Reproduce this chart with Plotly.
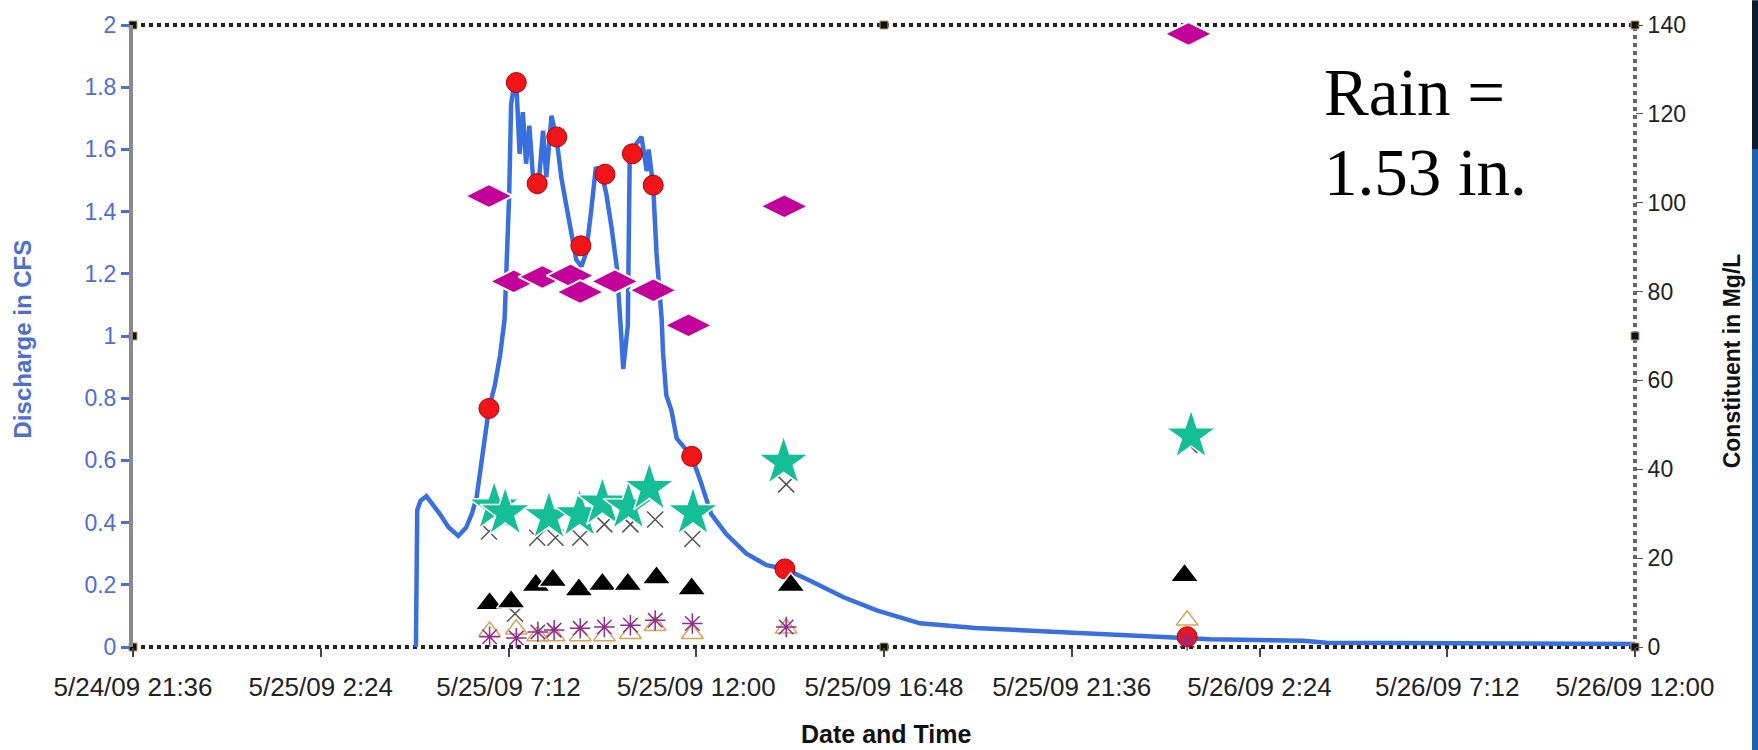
import plotly.graph_objects as go

# ---------------- data ----------------
# Continuous discharge record (left axis, CFS)
q_time = [
    "2009-05-25 04:50", "2009-05-25 04:52", "2009-05-25 04:57", "2009-05-25 05:06", "2009-05-25 05:15",
    "2009-05-25 05:26", "2009-05-25 05:40", "2009-05-25 05:55", "2009-05-25 06:07", "2009-05-25 06:16",
    "2009-05-25 06:23", "2009-05-25 06:30", "2009-05-25 06:36", "2009-05-25 06:42", "2009-05-25 06:51",
    "2009-05-25 06:59", "2009-05-25 07:06", "2009-05-25 07:08", "2009-05-25 07:11", "2009-05-25 07:13",
    "2009-05-25 07:16", "2009-05-25 07:20", "2009-05-25 07:24", "2009-05-25 07:26", "2009-05-25 07:29",
    "2009-05-25 07:34", "2009-05-25 07:39", "2009-05-25 07:44", "2009-05-25 07:50", "2009-05-25 07:57",
    "2009-05-25 08:05", "2009-05-25 08:10", "2009-05-25 08:18", "2009-05-25 08:26", "2009-05-25 08:33",
    "2009-05-25 08:41", "2009-05-25 08:49", "2009-05-25 08:56", "2009-05-25 09:04", "2009-05-25 09:11",
    "2009-05-25 09:19", "2009-05-25 09:26", "2009-05-25 09:35", "2009-05-25 09:42", "2009-05-25 09:50",
    "2009-05-25 09:58", "2009-05-25 10:04", "2009-05-25 10:08", "2009-05-25 10:15", "2009-05-25 10:17",
    "2009-05-25 10:18", "2009-05-25 10:28", "2009-05-25 10:36", "2009-05-25 10:44", "2009-05-25 10:47",
    "2009-05-25 10:54", "2009-05-25 10:59", "2009-05-25 11:07", "2009-05-25 11:09", "2009-05-25 11:14",
    "2009-05-25 11:22", "2009-05-25 11:30", "2009-05-25 11:42", "2009-05-25 11:53", "2009-05-25 12:05",
    "2009-05-25 12:23", "2009-05-25 12:46", "2009-05-25 13:17", "2009-05-25 13:48", "2009-05-25 14:16",
    "2009-05-25 14:54", "2009-05-25 15:46", "2009-05-25 16:37", "2009-05-25 17:43", "2009-05-25 19:08",
    "2009-05-25 21:38", "2009-05-25 22:19", "2009-05-26 00:02", "2009-05-26 01:08", "2009-05-26 03:31",
    "2009-05-26 04:07", "2009-05-26 12:00",
]
q_cfs = [
    0.0, 0.44, 0.47, 0.485, 0.46,
    0.43, 0.385, 0.357, 0.384, 0.43,
    0.48, 0.586, 0.692, 0.767, 0.841,
    0.937, 1.054, 1.16, 1.267, 1.45,
    1.745, 1.80, 1.815, 1.70, 1.586,
    1.72, 1.554, 1.676, 1.50, 1.458,
    1.66, 1.51, 1.708, 1.63, 1.51,
    1.416, 1.33, 1.245, 1.224, 1.267,
    1.405, 1.543, 1.52, 1.458, 1.35,
    1.224, 1.033, 0.894, 1.033, 1.30,
    1.586, 1.618, 1.64, 1.53, 1.60,
    1.48, 1.267, 1.054, 0.948, 0.81,
    0.76, 0.671, 0.639, 0.613, 0.543,
    0.427, 0.363, 0.30, 0.263, 0.251,
    0.214, 0.16, 0.118, 0.076, 0.061,
    0.045, 0.044, 0.031, 0.025, 0.020,
    0.014, 0.010,
]

# Discharge at sample times (red circles, left axis)
samp_time = ["2009-05-25 06:42", "2009-05-25 07:24", "2009-05-25 07:56", "2009-05-25 08:26",
             "2009-05-25 09:03", "2009-05-25 09:40", "2009-05-25 10:22", "2009-05-25 10:54",
             "2009-05-25 11:53", "2009-05-25 14:16", "2009-05-26 00:33"]
samp_cfs = [0.767, 1.815, 1.49, 1.64, 1.29, 1.52, 1.586, 1.485, 0.613, 0.251, 0.033]

# Constituents (right axis, Mg/L)
dia_time = ["2009-05-25 06:42", "2009-05-25 07:20", "2009-05-25 08:04", "2009-05-25 08:47",
            "2009-05-25 09:02", "2009-05-25 09:55", "2009-05-25 10:54", "2009-05-25 11:48",
            "2009-05-25 14:15", "2009-05-26 00:35"]
dia_val = [101.5, 82.3, 83.3, 83.6, 79.9, 82.3, 80.3, 72.4, 99.2, 138.0]

star_time = ["2009-05-25 06:50", "2009-05-25 07:07", "2009-05-25 08:14", "2009-05-25 09:01",
             "2009-05-25 09:36", "2009-05-25 10:16", "2009-05-25 10:48", "2009-05-25 11:55",
             "2009-05-25 14:14", "2009-05-26 00:39"]
star_val = [31.5, 30.2, 29.3, 29.8, 32.4, 31.5, 35.7, 30.2, 41.6, 47.5]

x_time = ["2009-05-25 06:42", "2009-05-25 07:22", "2009-05-25 07:56", "2009-05-25 08:24",
          "2009-05-25 09:02", "2009-05-25 09:39", "2009-05-25 10:19", "2009-05-25 10:57",
          "2009-05-25 11:54", "2009-05-25 14:18", "2009-05-26 00:36"]
x_val = [26.0, 7.5, 24.6, 24.6, 24.6, 27.6, 27.6, 28.7, 24.3, 36.6, 45.5]

tri_time = ["2009-05-25 06:43", "2009-05-25 07:16", "2009-05-25 07:54", "2009-05-25 08:20",
            "2009-05-25 09:00", "2009-05-25 09:36", "2009-05-25 10:15", "2009-05-25 10:59",
            "2009-05-25 11:53", "2009-05-25 14:25", "2009-05-26 00:29"]
tri_val = [9.8, 10.2, 13.9, 15.0, 12.9, 14.1, 14.1, 15.6, 13.1, 13.9, 16.1]

otri_time = ["2009-05-25 06:43", "2009-05-25 07:24", "2009-05-25 07:57", "2009-05-25 08:22",
             "2009-05-25 09:02", "2009-05-25 09:39", "2009-05-25 10:19", "2009-05-25 10:57",
             "2009-05-25 11:54", "2009-05-25 14:18", "2009-05-26 00:33"]
otri_val = [3.5, 4.0, 2.5, 2.5, 2.5, 2.5, 3.0, 4.8, 3.0, 4.2, 6.0]

ast_time = otri_time
ast_val = [2.3, 2.0, 3.4, 3.8, 4.2, 4.5, 4.9, 6.0, 5.3, 4.5, 1.5]

# Axis ticks
x_range = ["2009-05-24 21:36", "2009-05-26 12:00"]
x_tickvals = ["2009-05-24 21:36", "2009-05-25 02:24", "2009-05-25 07:12", "2009-05-25 12:00",
              "2009-05-25 16:48", "2009-05-25 21:36", "2009-05-26 02:24", "2009-05-26 07:12",
              "2009-05-26 12:00"]
x_ticktext = ["5/24/09 21:36", "5/25/09 2:24", "5/25/09 7:12", "5/25/09 12:00",
              "5/25/09 16:48", "5/25/09 21:36", "5/26/09 2:24", "5/26/09 7:12",
              "5/26/09 12:00"]

# Excel selection handles on the frame
handle_time = ["2009-05-24 21:36", "2009-05-24 21:36", "2009-05-24 21:36", "2009-05-25 16:48",
               "2009-05-25 16:48", "2009-05-26 12:00", "2009-05-26 12:00", "2009-05-26 12:00"]
handle_val = [0, 70, 140, 140, 0, 0, 70, 140]

# ---------------- figure ----------------
BLUE = "#3a6fe0"
fig = go.Figure()

fig.add_trace(go.Scatter(x=q_time, y=q_cfs, mode="lines",
                         line=dict(color=BLUE, width=4.5), yaxis="y", hoverinfo="skip"))
fig.add_trace(go.Scatter(x=samp_time, y=samp_cfs, mode="markers", yaxis="y", cliponaxis=False,
                         marker=dict(symbol="circle", size=20, color="#ee1418",
                                     line=dict(color="#b80000", width=1))))
fig.add_trace(go.Scatter(x=dia_time, y=dia_val, mode="markers", yaxis="y2", cliponaxis=False,
                         marker=dict(symbol="diamond-wide", size=34, color="#c4009a",
                                     line=dict(color="white", width=2))))
fig.add_trace(go.Scatter(x=x_time, y=x_val, mode="markers", yaxis="y2", cliponaxis=False,
                         marker=dict(symbol="x-thin-open", size=16, color="#555555",
                                     line=dict(color="#555555", width=1.5))))
fig.add_trace(go.Scatter(x=star_time, y=star_val, mode="markers", yaxis="y2", cliponaxis=False,
                         marker=dict(symbol="star", size=38, color="#14be96",
                                     line=dict(color="white", width=1.5))))
fig.add_trace(go.Scatter(x=otri_time, y=otri_val, mode="markers", yaxis="y2", cliponaxis=False,
                         marker=dict(symbol="triangle-up-open", size=19, color="#d9a35a",
                                     line=dict(color="#d9a35a", width=1.5))))
fig.add_trace(go.Scatter(x=ast_time, y=ast_val, mode="markers", yaxis="y2", cliponaxis=False,
                         marker=dict(symbol="asterisk-open", size=17, color="#8e2d8e",
                                     line=dict(color="#8e2d8e", width=1.5))))
fig.add_trace(go.Scatter(x=tri_time, y=tri_val, mode="markers", yaxis="y2", cliponaxis=False,
                         marker=dict(symbol="triangle-up", size=25, color="black",
                                     line=dict(color="white", width=1.5))))
fig.add_trace(go.Scatter(x=handle_time, y=handle_val, mode="markers", yaxis="y2", cliponaxis=False,
                         marker=dict(symbol="square", size=8, color="#111111",
                                     line=dict(color="#b8a070", width=1))))

L, R, T, B = 133, 123, 20, 103
W, H = 1758, 750
PW, PH = W - L - R, H - T - B

fig.update_layout(
    width=W, height=H,
    margin=dict(l=L, r=R, t=T, b=B),
    plot_bgcolor="white", paper_bgcolor="white",
    showlegend=False,
    font=dict(family="Liberation Sans, Arial, sans-serif", color="#222"),
    xaxis=dict(type="date", range=x_range, tickvals=x_tickvals, ticktext=x_ticktext,
               showgrid=False, zeroline=False, showline=False,
               ticks="outside", ticklen=9, tickwidth=2, tickcolor="#444",
               tickfont=dict(size=26, color="#222"), ticklabelstandoff=8),
    yaxis=dict(range=[0, 2], tick0=0, dtick=0.2, showgrid=False, zeroline=False,
               showline=True, linecolor="#8a8a8a", linewidth=4,
               ticks="outside", ticklen=8, tickwidth=3, tickcolor="#4e6fd0",
               tickfont=dict(size=23, color="#4e6fd0")),
    yaxis2=dict(range=[0, 140], tick0=0, dtick=20, overlaying="y", side="right",
                showgrid=False, zeroline=False, showline=False,
                ticks="outside", ticklen=7, tickwidth=1, tickcolor="#555",
                tickfont=dict(size=23, color="#222")),
)

# dotted frame lines (top, bottom, right)
fig.add_shape(type="line", xref="paper", yref="paper", x0=0, x1=1, y0=1, y1=1,
              line=dict(color="#222", width=4, dash="dot"), layer="below")
fig.add_shape(type="line", xref="paper", yref="paper", x0=0, x1=1, y0=0, y1=0,
              line=dict(color="#222", width=4, dash="dot"), layer="below")
fig.add_shape(type="line", xref="paper", yref="paper", x0=1, x1=1, y0=0, y1=1,
              line=dict(color="#666", width=4, dash="dot"), layer="below")

# slide-edge strip at the far right
def px_x(px):
    return (px - L) / PW

def px_y(py):
    return (H - B - py) / PH

fig.add_shape(type="rect", xref="paper", yref="paper", x0=px_x(1752), x1=px_x(1762),
              y0=px_y(145), y1=px_y(-5), fillcolor="#0b1a2e", line=dict(width=0), layer="above")
fig.add_shape(type="rect", xref="paper", yref="paper", x0=px_x(1752), x1=px_x(1762),
              y0=px_y(760), y1=px_y(145), fillcolor="#1a5fb4", line=dict(width=0), layer="above")

# axis titles
fig.add_annotation(text="<b>Discharge in CFS</b>", textangle=-90, xref="paper", yref="paper",
                   x=0, y=px_y(337), xshift=22 - L, xanchor="center", yanchor="middle",
                   showarrow=False, font=dict(size=24, color="#4e6fd0"))
fig.add_annotation(text="<b>Constituent in Mg/L</b>", textangle=-90, xref="paper", yref="paper",
                   x=1, y=px_y(359), xshift=1732 - (L + PW), xanchor="center", yanchor="middle",
                   showarrow=False, font=dict(size=23, color="#111"))
fig.add_annotation(text="<b>Date and Time</b>", xref="paper", yref="paper",
                   x=px_x(886), y=px_y(735), xanchor="center", yanchor="middle",
                   showarrow=False, font=dict(size=25, color="#111"))

# rain note
fig.add_annotation(text="Rain =", xref="paper", yref="paper", x=px_x(1322), y=px_y(88),
                   xanchor="left", yanchor="middle", showarrow=False,
                   font=dict(family="Liberation Serif, Times New Roman, serif", size=67, color="black"))
fig.add_annotation(text="1.53 in.", xref="paper", yref="paper", x=px_x(1322), y=px_y(168),
                   xanchor="left", yanchor="middle", showarrow=False,
                   font=dict(family="Liberation Serif, Times New Roman, serif", size=67, color="black"))

fig.write_html("out.html", config={"displayModeBar": False},
               post_script="document.body.style.margin='0';document.body.style.overflow='hidden';")
